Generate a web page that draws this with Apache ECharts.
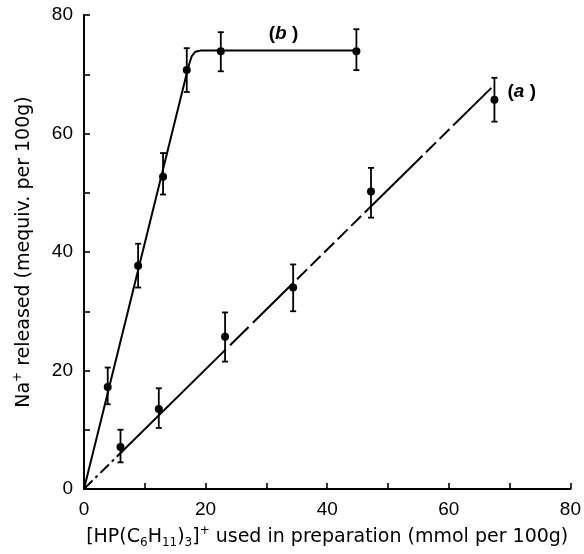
<!DOCTYPE html>
<html><head><meta charset="utf-8">
<script src="https://cdn.jsdelivr.net/npm/echarts@6/dist/echarts.min.js"></script>
<style>html,body{margin:0;padding:0;background:#fff}#c{width:584px;height:554px}</style>
</head><body><div id="c"></div>
<script>
// Series (a)
const aX  = [6.0, 12.3, 23.2, 34.4, 47.2, 67.5];
const aY  = [7.1, 13.5, 25.7, 34.0, 50.2, 65.7];
const aLo = [4.5, 10.3, 21.5, 30.0, 45.8, 62.0];
const aHi = [10.0, 17.0, 29.8, 37.9, 54.2, 69.4];
// Series (b)
const bX  = [3.9, 8.9, 13.0, 16.9, 22.5, 44.8];
const bY  = [17.2, 37.7, 52.7, 70.7, 73.9, 73.9];
const bLo = [14.3, 34.0, 49.7, 67.0, 70.5, 70.7];
const bHi = [20.5, 41.4, 56.7, 74.4, 77.1, 77.6];
// Fitted lines
const aFit = [[0, 0], [67.0, 67.7]];
const bFit = [[0, 0], [17.2, 71.4], [17.7, 73.0], [18.3, 73.8], [19.2, 74.0], [44.8, 74.0]];
// Curve labels
const curveLabels = [{ name: '(b)', x: 32.8, y: 76.8 }, { name: '(a)', x: 72.0, y: 67.0 }];
const xTicks = [0, 20, 40, 60, 80];
const yTicks = [0, 20, 40, 60, 80];

const pts = (xs, ys) => xs.map((x, i) => [x, ys[i]]);
const errs = (xs, lo, hi) => xs.map((x, i) => [x, lo[i], hi[i]]);

function errRender(params, api) {
  const x = api.value(0), lo = api.value(1), hi = api.value(2);
  const p1 = api.coord([x, lo]), p2 = api.coord([x, hi]);
  const w = 3;
  const st = { stroke: '#000', lineWidth: 1.8 };
  return { type: 'group', children: [
    { type: 'line', shape: { x1: p1[0], y1: p1[1], x2: p2[0], y2: p2[1] }, style: st },
    { type: 'line', shape: { x1: p1[0] - w, y1: p1[1], x2: p1[0] + w, y2: p1[1] }, style: st },
    { type: 'line', shape: { x1: p2[0] - w, y1: p2[1], x2: p2[0] + w, y2: p2[1] }, style: st }
  ]};
}

const font = 'Liberation Sans, Arial, Helvetica, sans-serif';
const nfont = 'DejaVu Sans, sans-serif';
const chart = echarts.init(document.getElementById('c'), null, { renderer: 'canvas' });
const axisCommon = {
  type: 'value', min: 0, max: 80, interval: 10,
  axisLine: { show: true, lineStyle: { color: '#000', width: 2 } },
  axisTick: { show: true, inside: true, length: 6, lineStyle: { color: '#000', width: 1.6 } },
  splitLine: { show: false },
  axisLabel: { color: '#000', fontSize: 19, fontFamily: font, margin: 11,
    formatter: v => (xTicks.indexOf(v) >= 0 ? String(v) : '') },
  nameLocation: 'middle',
  nameTextStyle: { color: '#000', fontSize: 19, fontFamily: nfont,
    rich: {
      t: { fontSize: 19, fontFamily: nfont, color: '#000', lineHeight: 24 },
      sup: { fontSize: 12, fontFamily: nfont, color: '#000', verticalAlign: 'top', lineHeight: 24 },
      sub: { fontSize: 12, fontFamily: nfont, color: '#000', verticalAlign: 'bottom', lineHeight: 24 }
    } }
};
chart.setOption({
  animation: false,
  backgroundColor: '#fff',
  grid: { left: 84, right: 12, top: 15, bottom: 64, containLabel: false },
  xAxis: Object.assign({}, axisCommon, {
    name: '{t|[HP(C}{sub|6}{t|H}{sub|11}{t|)}{sub|3}{t|]}{sup|+}{t| used in preparation (mmol per 100g)}',
    nameGap: 36
  }),
  yAxis: Object.assign({}, axisCommon, {
    axisLabel: Object.assign({}, axisCommon.axisLabel, { formatter: v => (yTicks.indexOf(v) >= 0 ? String(v) : '') }),
    name: '{t|Na}{sup|+}{t| released (mequiv. per 100g)}',
    nameGap: 48
  }),
  series: [
    { type: 'line', data: aFit, symbol: 'none', z: 2,
      lineStyle: { color: '#000', width: 2,
        type: [12, 4, 3, 4, 12, 4, 3, 4, 153, 6, 26, 6, 57, 5, 14, 5, 14, 5, 14, 5, 14, 5, 14, 5, 81, 5, 14, 5, 14, 5, 60, 2000] } },
    { type: 'line', data: bFit, symbol: 'none', z: 2,
      lineStyle: { color: '#000', width: 2 } },
    { type: 'custom', data: errs(aX, aLo, aHi), renderItem: errRender, z: 3 },
    { type: 'custom', data: errs(bX, bLo, bHi), renderItem: errRender, z: 3 },
    { type: 'scatter', data: pts(aX, aY), symbol: 'circle', symbolSize: 8, itemStyle: { color: '#000', opacity: 1 }, z: 4 },
    { type: 'scatter', data: pts(bX, bY), symbol: 'circle', symbolSize: 8, itemStyle: { color: '#000', opacity: 1 }, z: 4 },
    { type: 'scatter', data: curveLabels.map(d => ({ name: d.name, value: [d.x, d.y] })),
      symbolSize: 0, z: 5, itemStyle: { color: '#000', opacity: 1 },
      label: { show: true, position: 'inside', color: '#000', fontSize: 19, fontFamily: font,
        textBorderWidth: 0, opacity: 1,
        formatter: p => {
          const m = p.name.match(/\((.)\)/);
          return '{p|(}{i|' + m[1] + '}{p| )}';
        },
        rich: {
          p: { fontSize: 19, fontFamily: font, color: '#000', fontWeight: 'bold', textBorderWidth: 0 },
          i: { fontSize: 19, fontFamily: font, color: '#000', fontStyle: 'italic', fontWeight: 'bold', textBorderWidth: 0 }
        } } }
  ]
});
</script></body></html>
